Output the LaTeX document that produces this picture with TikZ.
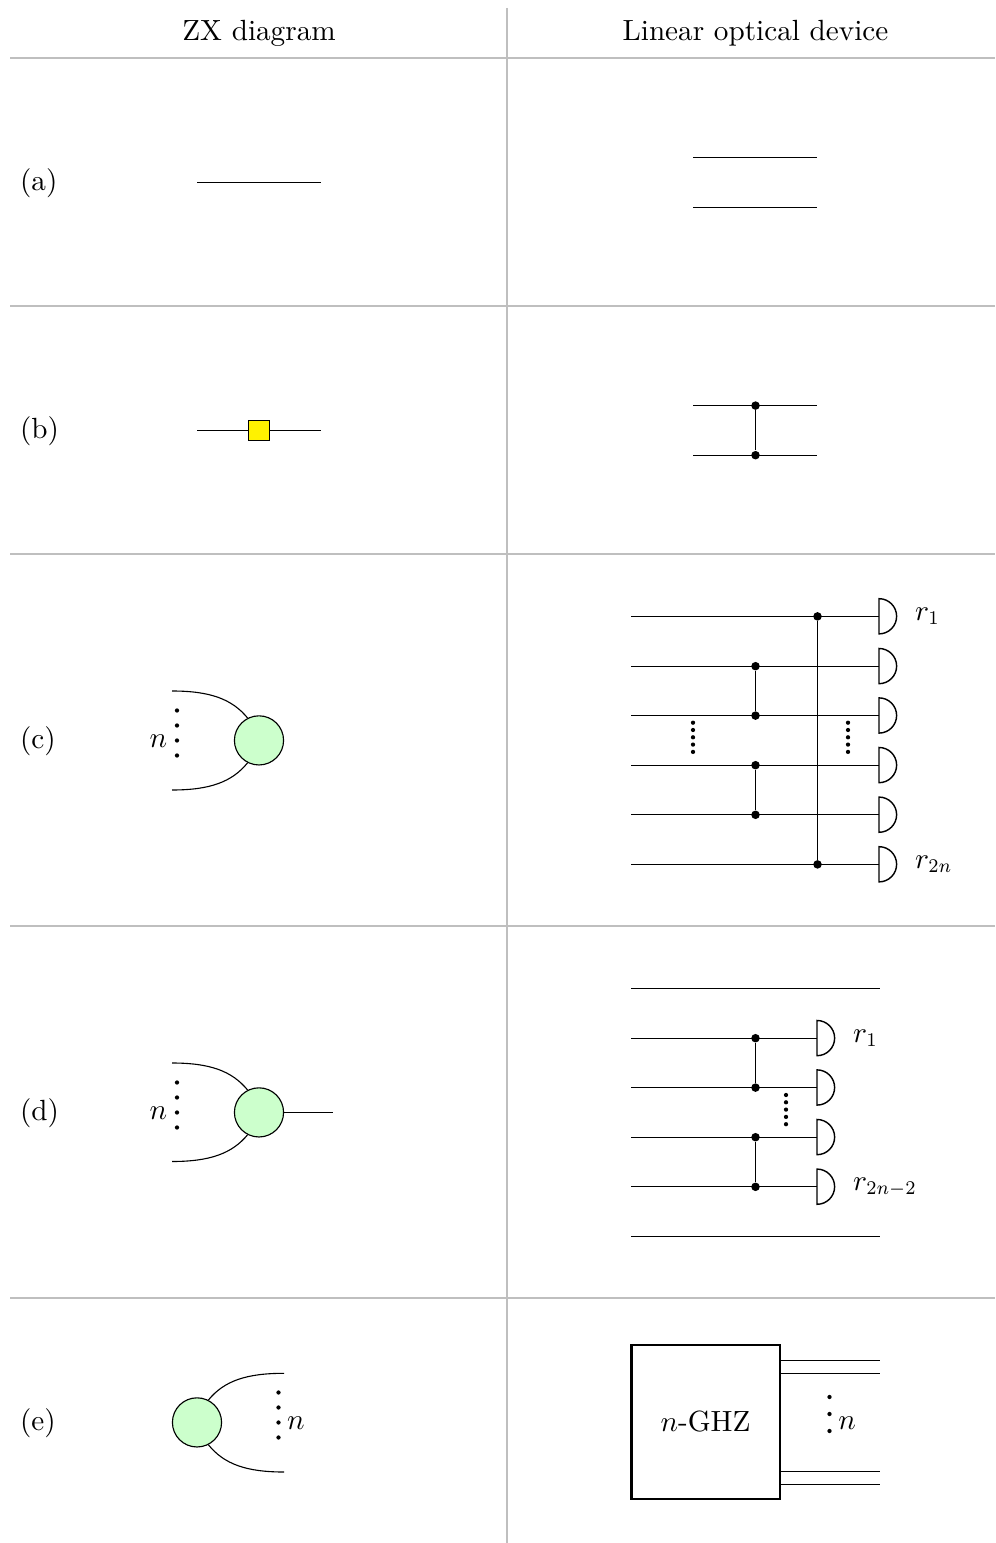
\documentclass[tikz,border=0pt]{standalone}
\usetikzlibrary{calc}
\definecolor{zxgreen}{HTML}{CCFFCC}
\tikzset{
  wire/.style={line width=0.39pt,black},
  grid rule/.style={line width=0.9pt,black!25},
  spider/.style={circle,draw,line width=0.4pt,fill=zxgreen,minimum size=17.3pt,inner sep=0pt},
  hbox/.style={rectangle,draw,line width=0.4pt,fill=yellow,minimum size=7.2pt,inner sep=0pt},
  junction/.style={circle,fill=black,minimum size=3pt,inner sep=0pt},
  dotmark/.style={circle,fill=black,minimum size=1.5pt,inner sep=0pt},
  det/.style={line width=0.5pt},
  ghz/.style={rectangle,draw,line width=1pt,minimum width=52.4pt,minimum height=54.2pt,inner sep=0pt},
  txt/.style={scale=1.028},
  rlab/.style={txt,anchor=base west,inner sep=0pt},
  rowlabel/.style={txt,anchor=west,inner sep=0pt}
}
\newcommand{\detector}[2]{\draw[det,fill=white] (#1,#2-17.5) -- (#1,#2+17.5) arc[radius=6.2pt,start angle=-90,end angle=90] -- cycle;}
\newcommand{\vdotsat}[5]{%
  \node[dotmark] at (#1,#2) {};\node[dotmark] at (#1,#3) {};\node[dotmark] at (#1,#4) {};\node[dotmark] at (#1,#5) {};}
\newcommand{\vfivedots}[2]{%
  \foreach \k in {0,1,2,3,4}{\node[dotmark] at (#1,#2+7.3*\k) {};}}
\newcommand{\wirepair}[5]{%
  \coordinate (#1) at (#3,#5);\coordinate (#2) at (#4,#5);\draw[wire] (#1) -- (#2);}
\newcommand{\subsc}[1]{\scalebox{0.88}[0.95]{$\scriptstyle #1$}}
\begin{document}
\begin{tikzpicture}[x=0.352pt,y=-0.352pt]
\useasboundingbox (0,0) rectangle (995,1543);
% rules
\coordinate (vt) at (507,8); \coordinate (vb) at (507,1543);
\draw[grid rule] (vt) -- (vb);
\foreach \yy [count=\i] in {58,306,554,926,1298}{
  \coordinate (hl\i) at (10,\yy); \coordinate (hr\i) at (995,\yy);
  \draw[grid rule] (hl\i) -- (hr\i);
}
% headers
\node[txt] (h1) at (259,33.5) {ZX diagram};
\node[txt] (h2) at (755.5,33.5) {Linear optical device};
% row labels
\node[rowlabel] (la) at (19.5,183) {(a)};
\node[rowlabel] (lb) at (19.5,431) {(b)};
\node[rowlabel] (lc) at (19.5,741) {(c)};
\node[rowlabel] (ld) at (19.5,1113) {(d)};
\node[rowlabel] (le) at (19.5,1423) {(e)};
% (a)
\wirepair{a1}{a2}{197}{321}{182.4}
\wirepair{a3}{a4}{693}{817}{157.6}
\wirepair{a5}{a6}{693}{817}{207.2}
% (b)
\wirepair{b1}{b2}{197}{321}{430.4}
\node[hbox] (bh) at (259,430.4) {};
\wirepair{b3}{b4}{693}{817}{405.6}
\wirepair{b5}{b6}{693}{817}{455.2}
\node[junction] (bj1) at (755.5,405.6) {};
\node[junction] (bj2) at (755.5,455.2) {};
\draw[wire] (bj1) -- (bj2);
% (c) ZX
\node[spider] (cs) at (259,740.4) {};
\coordinate (cu) at (172,691); \coordinate (cd) at (172,790);
\draw[wire] (cu) .. controls (210,691) and (232,699) .. (cs.117);
\draw[wire] (cd) .. controls (210,790) and (232,782) .. (cs.243);
\vdotsat{177}{710.5}{725.5}{740.5}{755.5}
\node[txt] (cn) at (158.5,741) {$n$};
% (c) LO
\foreach \yy/\n in {616.4/1,666.2/2,715.6/3,765.2/4,814.8/5,864.4/6}{
  \wirepair{cl\n}{cr\n}{631}{879}{\yy}
  \detector{879}{\yy}
}
\node[junction] (cj1) at (817.5,616.4) {};
\node[junction] (cj2) at (817.5,864.4) {};
\draw[wire] (cj1) -- (cj2);
\node[junction] (cj3) at (755.5,666.2) {};
\node[junction] (cj4) at (755.5,715.6) {};
\draw[wire] (cj3) -- (cj4);
\node[junction] (cj5) at (755.5,765.2) {};
\node[junction] (cj6) at (755.5,814.8) {};
\draw[wire] (cj5) -- (cj6);
\vfivedots{693}{722.7}
\vfivedots{848}{722.7}
\node[rlab] (cr1l) at (914.5,620) {$r_{\subsc{1}}$};
\node[rlab] (cr2l) at (914.5,868) {$r_{\subsc{2n}}$};
% (d) ZX
\node[spider] (ds) at (259,1112.4) {};
\coordinate (du) at (172,1063); \coordinate (dd) at (172,1161.5); \coordinate (de) at (333,1112.4);
\draw[wire] (du) .. controls (210,1063) and (232,1071) .. (ds.117);
\draw[wire] (dd) .. controls (210,1161.5) and (232,1153.5) .. (ds.243);
\draw[wire] (ds) -- (de);
\vdotsat{177}{1082.5}{1097.5}{1112.5}{1127.5}
\node[txt] (dn) at (158.5,1113) {$n$};
% (d) LO
\wirepair{dt1}{dt2}{631}{879.5}{988.4}
\wirepair{db1}{db2}{631}{879.5}{1236.4}
\foreach \yy/\n in {1038.2/1,1087.6/2,1137.2/3,1186.8/4}{
  \wirepair{dl\n}{dr\n}{631}{817}{\yy}
  \detector{817}{\yy}
}
\node[junction] (dj1) at (755.5,1038.2) {};
\node[junction] (dj2) at (755.5,1087.6) {};
\draw[wire] (dj1) -- (dj2);
\node[junction] (dj3) at (755.5,1137.2) {};
\node[junction] (dj4) at (755.5,1186.8) {};
\draw[wire] (dj3) -- (dj4);
\vfivedots{786}{1095}
\node[rlab] (dr1l) at (852.5,1042) {$r_{\subsc{1}}$};
\node[rlab] (dr2l) at (852.5,1190.5) {$r_{\subsc{2n-2}}$};
% (e) ZX
\node[spider] (es) at (197,1422.4) {};
\coordinate (eu) at (284,1373.3); \coordinate (ed) at (284,1472);
\draw[wire] (eu) .. controls (246,1373.3) and (224,1381) .. (es.63);
\draw[wire] (ed) .. controls (246,1472) and (224,1464) .. (es.-63);
\vdotsat{278.5}{1392.5}{1407.5}{1422.5}{1437.5}
\node[txt] (en) at (296,1423) {$n$};
% (e) LO
\node[ghz] (g) at (705.5,1422) {\scalebox{1.028}{$n$-GHZ}};
\foreach \yy/\n in {1360.5/1,1373.3/2,1471.5/3,1484.3/4}{
  \coordinate (gl\n) at (g.east |- 0,\yy); \coordinate (gr\n) at (880,\yy);
  \draw[wire] (gl\n) -- (gr\n);
}
\node[dotmark] (gd1) at (829.5,1397) {};
\node[dotmark] (gd2) at (829.5,1414) {};
\node[dotmark] (gd3) at (829.5,1431) {};
\node[txt] (gn) at (847,1423) {$n$};
\end{tikzpicture}
\end{document}
